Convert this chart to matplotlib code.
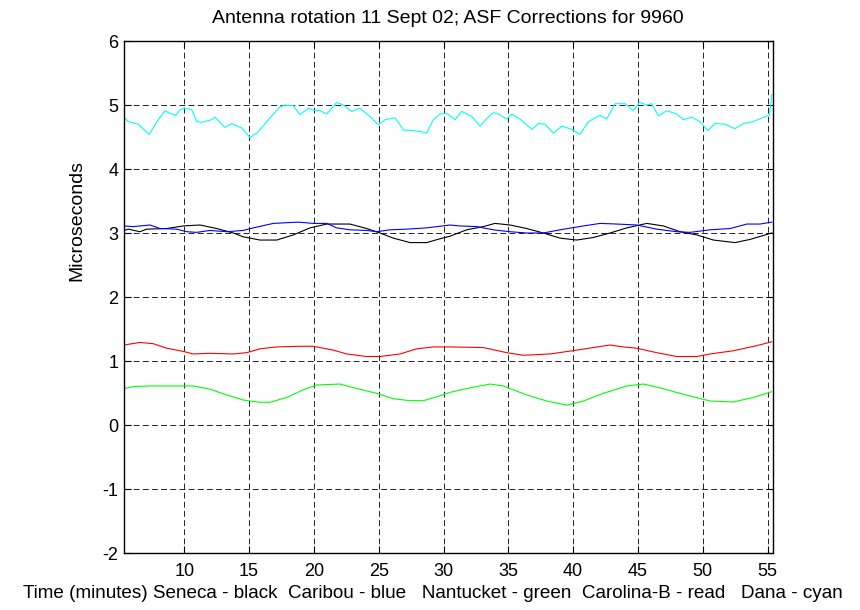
import matplotlib
matplotlib.use("Agg")
import matplotlib.pyplot as plt

plt.rcParams['font.family'] = ['Liberation Sans', 'DejaVu Sans']
plt.rcParams['axes.unicode_minus'] = False

# Seneca - black
t_black = [5.35, 5.68, 6.58, 7.10, 8.64, 9.92, 11.21, 12.50, 13.78, 14.55, 15.84, 17.13, 18.41, 19.70,
           20.99, 22.78, 24.07, 25.10, 26.13, 27.42, 28.70, 29.73, 30.50, 31.79, 33.07, 33.97, 35.13,
           36.42, 37.70, 38.99, 40.28, 41.56, 42.85, 44.14, 45.68, 46.96, 48.25, 49.54, 50.82, 52.49,
           53.65, 55.32]
v_black = [3.04, 3.06, 3.02, 3.06, 3.07, 3.11, 3.125, 3.07, 3.00, 2.94, 2.89, 2.89, 2.97, 3.08,
           3.14, 3.14, 3.07, 3.00, 2.92, 2.85, 2.85, 2.91, 2.95, 3.05, 3.10, 3.15, 3.125,
           3.07, 3.00, 2.92, 2.89, 2.93, 3.00, 3.08, 3.15, 3.11, 3.02, 2.97, 2.89, 2.85,
           2.90, 3.00]

# Caribou - blue
t_blue = [5.35, 6.06, 7.35, 8.13, 9.41, 10.19, 10.96, 11.98, 13.27, 14.55, 15.32, 16.87, 18.80, 19.95,
          20.99, 21.76, 22.78, 24.07, 24.85, 25.88, 27.16, 28.70, 30.50, 31.27, 32.56, 33.84, 35.13,
          36.42, 37.70, 38.99, 40.79, 42.08, 43.36, 44.91, 46.45, 47.99, 49.02, 50.57, 52.11, 53.40,
          54.42, 55.32]
v_blue = [3.11, 3.10, 3.125, 3.07, 3.06, 3.02, 3.01, 3.04, 3.02, 3.04, 3.08, 3.15, 3.17, 3.15,
          3.15, 3.08, 3.05, 3.04, 3.02, 3.05, 3.06, 3.08, 3.125, 3.11, 3.10, 3.05, 3.02,
          3.00, 3.00, 3.05, 3.11, 3.15, 3.14, 3.125, 3.06, 3.02, 3.01, 3.05, 3.07, 3.14,
          3.14, 3.17]

# Nantucket - green
t_green = [5.35, 6.06, 7.35, 10.69, 11.98, 13.27, 14.55, 15.84, 16.61, 17.90, 19.18, 20.22, 22.01,
           23.30, 24.85, 26.13, 27.42, 28.44, 29.48, 30.50, 31.79, 33.59, 34.61, 36.42, 37.96, 39.51,
           40.79, 42.33, 44.14, 45.42, 46.70, 48.50, 50.57, 52.36, 53.90, 55.32]
v_green = [0.57, 0.60, 0.61, 0.61, 0.56, 0.47, 0.39, 0.355, 0.355, 0.43, 0.55, 0.625, 0.64,
           0.57, 0.495, 0.41, 0.38, 0.38, 0.44, 0.51, 0.57, 0.64, 0.61, 0.47, 0.375, 0.31,
           0.375, 0.495, 0.61, 0.64, 0.58, 0.48, 0.375, 0.36, 0.43, 0.52]

# Carolina-B - red
t_red = [5.35, 6.58, 7.61, 8.64, 9.92, 10.69, 11.98, 13.78, 14.81, 15.84, 17.13, 18.93, 19.95, 21.50,
         22.53, 24.07, 25.10, 26.64, 27.93, 29.21, 30.50, 33.07, 34.88, 36.16, 38.22, 40.28, 42.85,
         43.87, 44.91, 46.45, 47.99, 49.54, 50.57, 52.36, 54.17, 55.32]
v_red = [1.25, 1.29, 1.27, 1.20, 1.15, 1.11, 1.12, 1.11, 1.13, 1.19, 1.22, 1.23, 1.23, 1.17,
         1.11, 1.07, 1.07, 1.11, 1.19, 1.22, 1.22, 1.21, 1.13, 1.09, 1.11, 1.17, 1.25,
         1.22, 1.20, 1.13, 1.07, 1.07, 1.11, 1.16, 1.24, 1.30]

# Dana - cyan
t_cyan = [5.37, 5.68, 6.45, 7.30, 7.99, 8.51, 8.90, 9.34, 9.67, 9.92, 10.57, 10.96, 11.34, 12.11,
          12.37, 13.14, 13.66, 14.43, 15.07, 15.71, 16.48, 17.38, 17.77, 18.41, 18.93, 19.57, 19.95,
          20.47, 20.99, 21.76, 22.27, 22.92, 23.56, 24.33, 24.97, 25.49, 26.26, 26.90, 27.67, 28.32,
          28.70, 29.21, 29.73, 30.25, 30.89, 31.40, 32.18, 32.82, 33.33, 33.84, 34.23, 34.88, 35.26,
          35.90, 36.81, 37.31, 37.83, 38.47, 39.12, 39.89, 40.53, 41.17, 42.08, 42.59, 43.23, 44.01,
          44.64, 45.11, 45.68, 46.06, 46.57, 47.22, 47.99, 48.50, 49.15, 49.79, 50.39, 50.95, 51.72,
          52.49, 53.13, 53.90, 54.81, 55.14, 55.32]
v_cyan = [4.80, 4.74, 4.70, 4.54, 4.77, 4.91, 4.87, 4.84, 4.92, 4.95, 4.93, 4.74, 4.73, 4.77,
          4.81, 4.65, 4.71, 4.64, 4.49, 4.58, 4.77, 4.97, 5.00, 4.99, 4.85, 4.95, 4.92,
          4.91, 4.86, 5.04, 5.00, 4.90, 4.95, 4.82, 4.69, 4.77, 4.80, 4.61, 4.60, 4.58,
          4.56, 4.77, 4.86, 4.87, 4.77, 4.90, 4.82, 4.67, 4.79, 4.88, 4.86, 4.78, 4.86,
          4.78, 4.62, 4.71, 4.70, 4.56, 4.67, 4.62, 4.54, 4.74, 4.84, 4.78, 5.02, 5.02,
          4.91, 5.04, 5.00, 5.02, 4.83, 4.91, 4.86, 4.77, 4.81, 4.74, 4.60, 4.71, 4.70,
          4.63, 4.71, 4.74, 4.82, 4.84, 5.16]

x_ticks = [10, 15, 20, 25, 30, 35, 40, 45, 50, 55]
y_ticks = [-2, -1, 0, 1, 2, 3, 4, 5, 6]

title = "Antenna rotation 11 Sept 02; ASF Corrections for 9960"
xlabel = "Time (minutes) Seneca - black  Caribou - blue   Nantucket - green  Carolina-B - read   Dana - cyan"
ylabel = "Microseconds"

fig = plt.figure(figsize=(8.6, 6.1), dpi=100)
ax = fig.add_axes([124/860, 1-553/610, (772.5-124)/860, (553-41)/610])

lw = 0.8
ax.plot(t_black, v_black, color='black', lw=lw)
ax.plot(t_blue, v_blue, color='blue', lw=lw)
ax.plot(t_green, v_green, color=(0, 1, 0), lw=lw)
ax.plot(t_red, v_red, color='red', lw=lw)
ax.plot(t_cyan, v_cyan, color='cyan', lw=lw)

ax.set_xlim(5.35, 55.38)
ax.set_ylim(-2, 6)
ax.set_xticks(x_ticks)
ax.set_yticks(y_ticks)
ax.tick_params(direction='in', top=True, right=True, labelsize=13, length=5, width=0.8)
ax.tick_params(axis='y', pad=4)
ax.tick_params(axis='x', pad=7)
for s in ax.spines.values():
    s.set_linewidth(1.0)
ax.grid(True, color='black', linestyle=(0, (7, 4)), linewidth=0.6)

ax.set_title(title, fontsize=14, pad=13)
ax.set_xlabel(xlabel, fontsize=13.6)
ax.xaxis.set_label_coords(0.477, -0.062)
ax.set_ylabel(ylabel, fontsize=14)
ax.yaxis.set_label_coords(-0.06, 0.65)

fig.savefig("out.png", dpi=100)
